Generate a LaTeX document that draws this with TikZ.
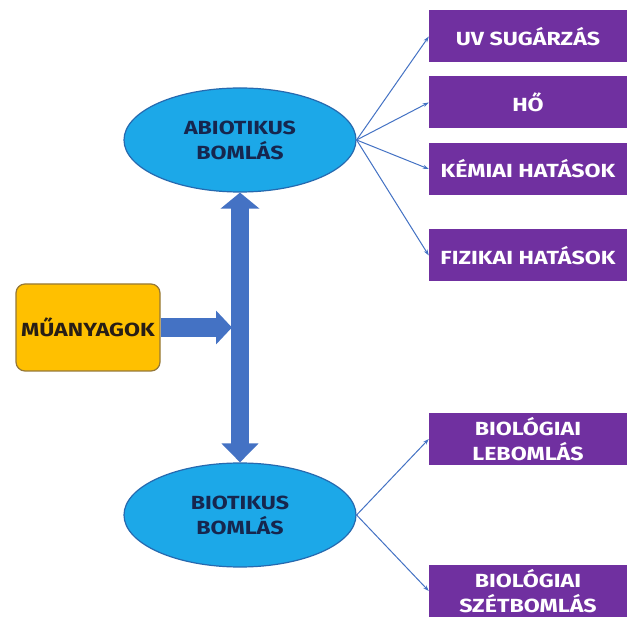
\documentclass[tikz,border=0pt]{standalone}
\usepackage{fontspec}
\setmainfont{Fira Sans}[FakeStretch=1.22]
\usetikzlibrary{arrows.meta,shapes.geometric}
\definecolor{ellfill}{RGB}{28,168,232}
\definecolor{ellline}{RGB}{38,105,175}
\definecolor{purp}{RGB}{112,48,160}
\definecolor{orng}{RGB}{255,192,0}
\definecolor{orline}{RGB}{150,120,55}
\definecolor{arrblue}{RGB}{68,114,196}
\definecolor{navy}{RGB}{22,38,78}
\definecolor{darktxt}{RGB}{40,30,22}
\begin{document}
\begin{tikzpicture}[x=1pt,y=-1pt,
  txt/.style={font=\fontsize{19}{25}\selectfont\bfseries, align=center},
  ell/.style={ellipse, draw=ellline, line width=1.2pt, fill=ellfill, minimum width=232pt, minimum height=104pt, inner sep=0pt, txt, text=navy},
  pbox/.style={rectangle, fill=purp, minimum width=198pt, minimum height=52pt, inner sep=0pt, txt, text=white},
  mubox/.style={rectangle, rounded corners=9pt, draw=orline, fill=orng, line width=1.2pt, minimum width=144pt, minimum height=87pt, inner sep=0pt, txt, text=darktxt},
  thinarr/.style={draw=arrblue, line width=1pt, -{Stealth[length=6pt,width=4pt]}},
  fatarr/.style={draw=arrblue, line width=18pt}
]
\useasboundingbox (0,0) rectangle (627,617);
\fill[white] (0,0) rectangle (627,617);

\node[ell] (abio) at (240,140) {ABIOTIKUS\\BOMLÁS};
\node[ell] (bio) at (240,515) {BIOTIKUS\\BOMLÁS};
\node[mubox] (mu) at (88,327.5) {MŰANYAGOK};

\node[pbox] (uv) at (528,36.5) {UV SUGÁRZÁS};
\node[pbox] (ho) at (528,102.5) {HŐ};
\node[pbox] (kem) at (528,169) {KÉMIAI HATÁSOK};
\node[pbox] (fiz) at (528,255.5) {FIZIKAI HATÁSOK};
\node[pbox] (lebo) at (528,439) {BIOLÓGIAI\\LEBOMLÁS};
\node[pbox] (szet) at (528,591) {BIOLÓGIAI\\SZÉTBOMLÁS};

\coordinate (join) at (232,327.5);
\draw[fatarr, line width=19pt, -{Triangle[length=16pt,width=33pt]}] (mu.east) -- (join);
\draw[fatarr, {Triangle[length=16pt,width=38pt]}-{Triangle[length=19pt,width=36pt]}] (abio.south) -- (bio.north);

\draw[thinarr] (abio.east) -- (uv.west);
\draw[thinarr] (abio.east) -- (ho.west);
\draw[thinarr] (abio.east) -- (kem.west);
\draw[thinarr] (abio.east) -- (fiz.west);
\draw[thinarr] (bio.east) -- (lebo.west);
\draw[thinarr] (bio.east) -- (szet.west);
\end{tikzpicture}
\end{document}
